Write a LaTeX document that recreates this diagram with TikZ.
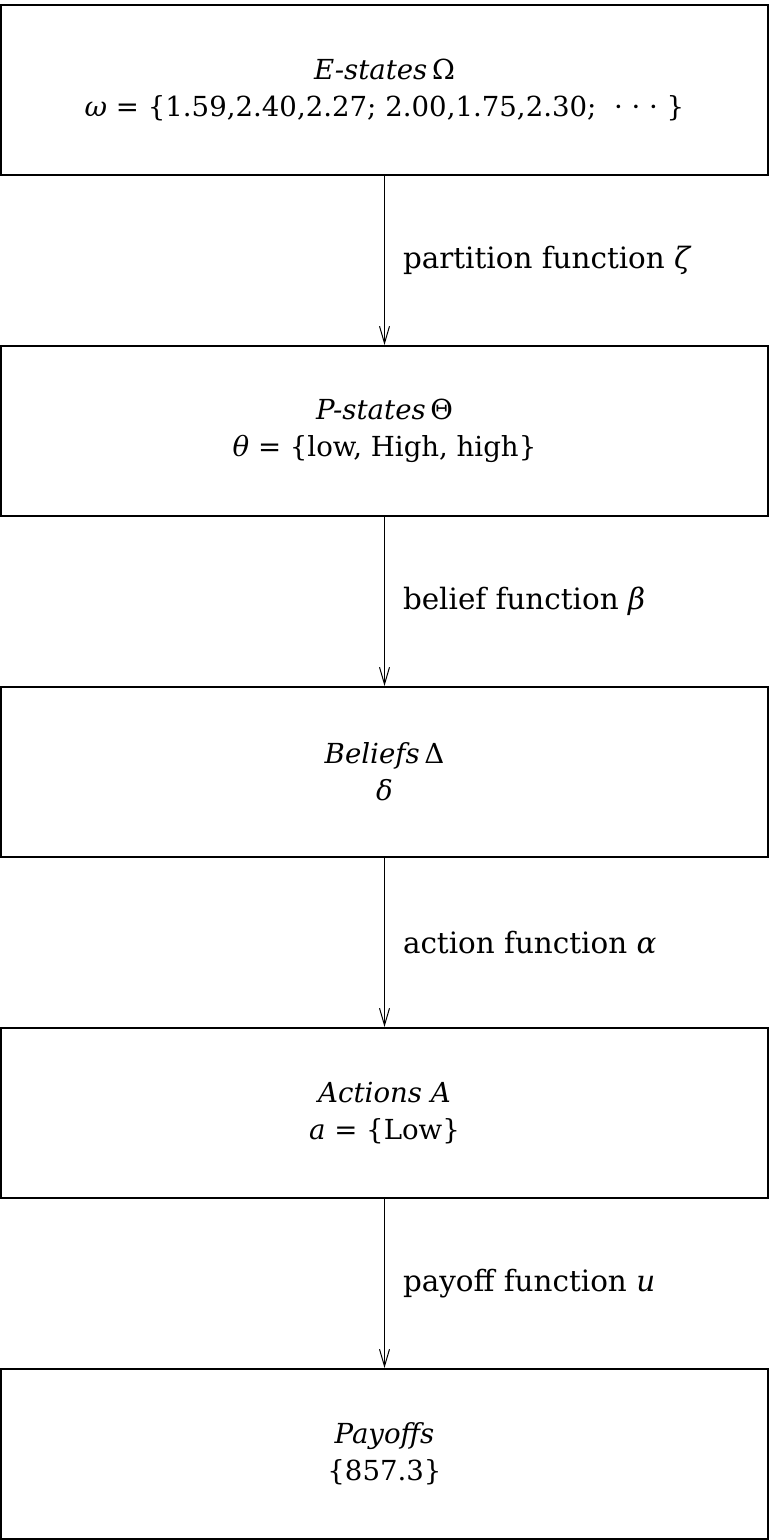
\documentclass[tikz,border=0pt]{standalone}
\usepackage{fontspec}
\setmainfont{DejaVu Serif}
\usetikzlibrary{arrows.meta}

\tikzset{
	statebox/.style={draw, line width=1pt, minimum width=383.5pt, minimum height=85pt,
		align=center, inner sep=0pt, font=\fontsize{13.8}{18.5}\selectfont},
	maparrow/.style={-{Straight Barb[length=8.5pt,width=5pt]}, line width=0.5pt},
	maplabel/.style={right, inner sep=0pt, xshift=9pt, font=\fontsize{14.7}{18.5}\selectfont},
}

\begin{document}
\begin{tikzpicture}[x=0.5pt, y=-0.5pt]
		\useasboundingbox (0,0) rectangle (770,1540);
		
		\node[statebox] (estates) at (384.5,90) {\textit{E-states}\,Ω\\\textit{ω} = \{1.59,2.40,2.27; 2.00,1.75,2.30;\ \ · · · \}};
		\node[statebox] (pstates) at (384.5,431) {\textit{P-states}\,Θ\\\textit{θ} = \{low, High, high\}};
		\node[statebox] (beliefs) at (384.5,772) {\textit{Beliefs}\,Δ\\\textit{δ}};
		\node[statebox] (actions) at (384.5,1113) {\textit{Actions A}\\\textit{a} = \{Low\}};
		\node[statebox] (payoffs) at (384.5,1454) {\textit{Payoffs}\\\{857.3\}};
		
		\draw[maparrow] (estates) -- node[maplabel] {partition function \textit{ζ}} (pstates);
		\draw[maparrow] (pstates) -- node[maplabel] {belief function \textit{β}} (beliefs);
		\draw[maparrow] (beliefs) -- node[maplabel] {action function \textit{α}} (actions);
		\draw[maparrow] (actions) -- node[maplabel] {payoff function \textit{u}} (payoffs);
		
		\end{tikzpicture}
\end{document}
